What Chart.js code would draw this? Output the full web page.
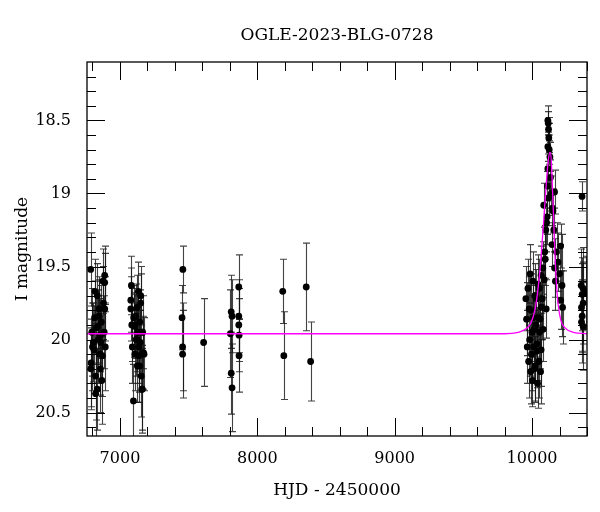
<!DOCTYPE html>
<html>
<head>
<meta charset="utf-8">
<script src="https://cdn.jsdelivr.net/npm/chart.js@4.4.0/dist/chart.umd.min.js"></script>
<style>
  html, body { margin: 0; background: #fff; }
</style>
</head>
<body>
<canvas id="lc" width="600" height="512"></canvas>
<script>
// photometry (HJD - 2450000, I mag, error)
const hjd = [
  6787, 6790, 6787, 6795, 6800, 6806, 6811, 6815, 6818, 6823, 6823, 6828, 6835, 6835, 6838, 6842,
  6848, 6848, 6852, 6855, 6858, 6860, 6865, 6868, 6872, 6876, 6880, 6885, 6889, 6889, 6889, 6893,
  7079, 7079, 7083, 7086, 7090, 7098, 7100, 7105, 7108, 7110, 7115, 7118, 7122, 7125, 7127, 7130,
  7134, 7138, 7140, 7142, 7145, 7147, 7151, 7151, 7155, 7159, 7163, 7165, 7171, 7175,
  7458, 7452, 7456, 7456, 7609, 7804, 7810, 7816, 7810, 7816, 7865, 7865, 7865, 7867, 7867,
  8185, 8193, 8356, 8388,
  9955, 9960, 9965, 9970, 9975, 9979, 9983, 9986, 9990, 9993, 9996, 10000, 10003, 10006, 10008, 10012,
  10015, 10018, 10021, 10023, 10027, 10030, 10033, 10037, 10040, 10043, 10046, 10050, 10052, 10055,
  10059, 10062, 10066, 10066, 10070, 10074, 10078, 10081, 10085, 10088, 10092, 10096, 10100, 10103, 10106,
  10110, 10112, 10115, 10115, 10115, 10118, 10120, 10120, 10122, 10125, 10130, 10134, 10140, 10145,
  10148, 10152, 10158, 10164, 10164, 10170, 10178, 10189, 10200, 10208, 10208, 10218, 10222,
  10364, 10358, 10372, 10365, 10372, 10360, 10365, 10360, 10372, 10395
];
const mag = [
  19.52, 20.16, 20.20, 19.95, 20.05, 20.02, 20.07, 19.85, 19.67, 20.25, 20.37, 19.92, 20.34, 19.70, 19.91, 20.00,
  19.79, 19.84, 20.10, 19.97, 20.20, 20.02, 19.88, 20.28, 20.11, 19.60, 19.75, 19.95, 19.56, 19.61, 19.79, 20.05,
  19.73, 19.79, 19.63, 19.90, 20.05, 20.42, 19.85, 19.90, 20.10, 19.91, 19.84, 20.00, 20.00, 19.78, 20.18, 19.95,
  19.67, 20.05, 20.11, 20.18, 19.88, 20.02, 19.70, 19.75, 20.25, 20.34, 20.34, 19.95, 20.09, 20.10,
  19.52, 19.85, 20.05, 20.10, 20.02, 19.96, 19.81, 19.84, 20.23, 20.33, 19.64, 19.84, 19.90, 19.97, 20.11,
  19.67, 20.11, 19.64, 20.15,
  19.72, 19.86, 20.05, 19.65, 20.15, 19.79, 20.00, 19.55, 20.22, 19.80, 20.10, 19.95, 20.28, 19.60, 19.85, 20.05,
  19.93, 20.20, 19.70, 20.18, 19.90, 19.72, 20.08, 20.03, 20.30, 19.62, 19.85, 20.15, 19.65, 19.95,
  19.86, 20.22, 20.07, 19.56, 19.78, 19.72, 19.51, 19.93, 19.08, 19.59, 19.40, 19.45, 19.25, 19.79, 19.20,
  19.16, 18.95, 18.50, 18.68, 18.83, 18.52, 18.56, 19.03, 18.62, 18.70, 18.75, 18.89, 19.00, 19.35,
  19.10, 19.12, 19.25, 18.99, 19.51, 19.60, 19.40, 19.47, 19.55, 19.36, 19.73, 19.63, 19.78,
  19.02, 19.63, 19.65, 19.69, 19.75, 19.78, 19.84, 19.88, 19.91, 19.68
];
const magErr = [
  0.25, 0.30, 0.28, 0.30, 0.30, 0.27, 0.30, 0.25, 0.22, 0.30, 0.30, 0.25, 0.28, 0.22, 0.25, 0.30,
  0.22, 0.25, 0.28, 0.25, 0.30, 0.25, 0.25, 0.30, 0.28, 0.22, 0.25, 0.25, 0.20, 0.20, 0.22, 0.30,
  0.22, 0.22, 0.20, 0.25, 0.25, 0.25, 0.22, 0.22, 0.25, 0.22, 0.22, 0.25, 0.22, 0.22, 0.25, 0.25,
  0.20, 0.25, 0.25, 0.25, 0.22, 0.22, 0.20, 0.20, 0.28, 0.28, 0.30, 0.25, 0.25, 0.25,
  0.16, 0.22, 0.30, 0.30, 0.30, 0.30, 0.25, 0.25, 0.28, 0.30, 0.22, 0.25, 0.25, 0.25, 0.25,
  0.22, 0.30, 0.30, 0.27,
  0.22, 0.25, 0.25, 0.20, 0.25, 0.22, 0.25, 0.20, 0.22, 0.25, 0.25, 0.25, 0.18, 0.20, 0.22, 0.25,
  0.22, 0.22, 0.22, 0.25, 0.22, 0.20, 0.25, 0.25, 0.17, 0.20, 0.22, 0.25, 0.20, 0.25,
  0.22, 0.22, 0.25, 0.20, 0.22, 0.20, 0.18, 0.22, 0.15, 0.20, 0.18, 0.18, 0.15, 0.20, 0.15,
  0.12, 0.10, 0.10, 0.10, 0.10, 0.08, 0.08, 0.12, 0.10, 0.10, 0.10, 0.12, 0.12, 0.15,
  0.12, 0.15, 0.15, 0.15, 0.20, 0.20, 0.20, 0.20, 0.20, 0.15, 0.20, 0.35, 0.25,
  0.10, 0.25, 0.28, 0.25, 0.28, 0.30, 0.25, 0.28, 0.30, 0.25
];

// magenta model curve
const modelHjd = [6760, 9800, 9900, 9950, 9990, 10020, 10040, 10060, 10080, 10100, 10115, 10128,
  10135, 10145, 10155, 10165, 10175, 10190, 10210, 10240, 10300, 10400];
const modelMag = [19.96, 19.96, 19.95, 19.93, 19.89, 19.80, 19.68, 19.50, 19.25, 18.98, 18.80, 18.72,
  18.72, 18.88, 19.12, 19.38, 19.58, 19.76, 19.87, 19.92, 19.95, 19.96];

const xTicks = [7000, 8000, 9000, 10000];
const yTicks = [18.5, 19, 19.5, 20, 20.5];
const xMinor = [6800, 7200, 7400, 7600, 7800, 8200, 8400, 8600, 8800, 9200, 9400, 9600, 9800, 10200, 10400];
const yMinor = [18.2, 18.3, 18.4, 18.6, 18.7, 18.8, 18.9, 19.1, 19.2, 19.3, 19.4, 19.6, 19.7, 19.8, 19.9,
  20.1, 20.2, 20.3, 20.4, 20.6];

const serif = "'DejaVu Serif', 'Liberation Serif', serif";

const errorBars = {
  id: 'errorBars',
  beforeDatasetsDraw(chart) {
    const { ctx, chartArea: a, scales: { x, y } } = chart;
    ctx.save();
    ctx.beginPath();
    ctx.rect(a.left, a.top, a.right - a.left, a.bottom - a.top);
    ctx.clip();
    ctx.strokeStyle = 'rgba(20,20,20,0.8)';
    ctx.lineWidth = 1.1;
    hjd.forEach((t, i) => {
      const px = Math.round(x.getPixelForValue(t)) + 0.5;
      const y1 = y.getPixelForValue(mag[i] - magErr[i]);
      const y2 = y.getPixelForValue(mag[i] + magErr[i]);
      ctx.beginPath();
      ctx.moveTo(px, y1); ctx.lineTo(px, y2);
      ctx.moveTo(px - 3.5, y1); ctx.lineTo(px + 3.5, y1);
      ctx.moveTo(px - 3.5, y2); ctx.lineTo(px + 3.5, y2);
      ctx.stroke();
    });
    ctx.restore();
  }
};

const frame = {
  id: 'frame',
  afterDraw(chart) {
    const { ctx, chartArea: a, scales: { x, y } } = chart;
    ctx.save();
    ctx.strokeStyle = '#000';
    ctx.lineWidth = 1;
    const tickX = (v, len) => {
      const px = Math.round(x.getPixelForValue(v)) + 0.5;
      ctx.moveTo(px, a.bottom); ctx.lineTo(px, a.bottom - len);
      ctx.moveTo(px, a.top); ctx.lineTo(px, a.top + len);
    };
    const tickY = (v, len) => {
      const py = Math.round(y.getPixelForValue(v)) + 0.5;
      ctx.moveTo(a.left, py); ctx.lineTo(a.left + len, py);
      ctx.moveTo(a.right, py); ctx.lineTo(a.right - len, py);
    };
    ctx.beginPath();
    xTicks.forEach(v => tickX(v, 18));
    xMinor.forEach(v => tickX(v, 9));
    yTicks.forEach(v => tickY(v, 18));
    yMinor.forEach(v => tickY(v, 9));
    ctx.stroke();
    ctx.lineWidth = 1.3;
    ctx.strokeRect(a.left, a.top, a.right - a.left, a.bottom - a.top);

    ctx.fillStyle = '#000';
    ctx.font = '17px ' + serif;
    ctx.textAlign = 'center';
    ctx.textBaseline = 'middle';
    ctx.fillText('OGLE-2023-BLG-0728', (a.left + a.right) / 2, 36);
    ctx.restore();
  }
};

new Chart(document.getElementById('lc'), {
  data: {
    datasets: [
      {
        type: 'line',
        data: modelHjd.map((t, i) => ({ x: t, y: modelMag[i] })),
        borderColor: '#ff00ff',
        borderWidth: 1.3,
        pointRadius: 0,
        cubicInterpolationMode: 'monotone',
        order: 0
      },
      {
        type: 'scatter',
        data: hjd.map((t, i) => ({ x: t, y: mag[i] })),
        backgroundColor: '#000',
        borderWidth: 0,
        pointRadius: 3.4,
        order: 1
      }
    ]
  },
  options: {
    responsive: false,
    animation: false,
    layout: { padding: { top: 62, right: 13, left: 0, bottom: 0 } },
    plugins: { legend: { display: false }, tooltip: { enabled: false } },
    scales: {
      x: {
        type: 'linear',
        min: 6760,
        max: 10400,
        grid: { display: false, drawTicks: false },
        border: { display: false },
        afterBuildTicks: s => { s.ticks = xTicks.map(v => ({ value: v })); },
        afterFit: s => { s.height = 76; },
        ticks: { color: '#000', padding: 13, font: { family: serif, size: 16 }, callback: v => String(v) },
        title: { display: true, text: 'HJD - 2450000', color: '#000', font: { family: serif, size: 17 }, padding: { top: 0, bottom: 11 } }
      },
      y: {
        type: 'linear',
        reverse: true,
        min: 18.1,
        max: 20.66,
        grid: { display: false, drawTicks: false },
        border: { display: false },
        afterBuildTicks: s => { s.ticks = yTicks.map(v => ({ value: v })); },
        afterFit: s => { s.width = 87; },
        ticks: { color: '#000', padding: 16, font: { family: serif, size: 16 }, callback: v => String(v) },
        title: { display: true, text: 'I magnitude', color: '#000', font: { family: serif, size: 17 }, padding: { top: 12, bottom: 0 } }
      }
    }
  },
  plugins: [errorBars, frame]
});
</script>
</body>
</html>
